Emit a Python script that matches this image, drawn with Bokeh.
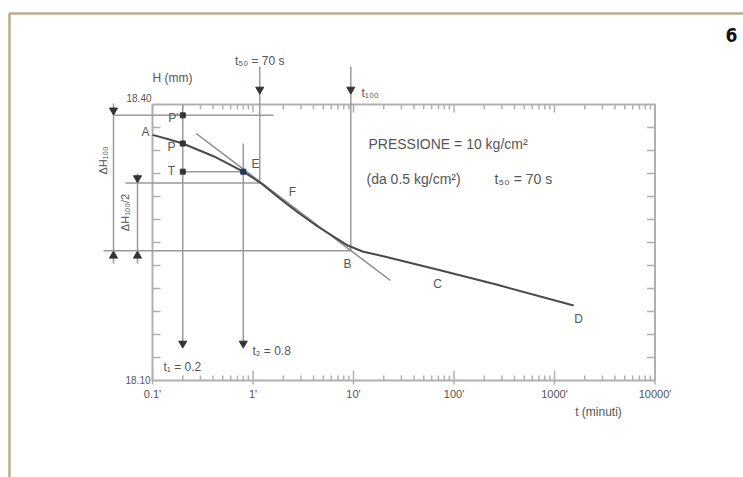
import numpy as np
from bokeh.plotting import figure
from bokeh.models import Range1d
from bokeh.core.properties import value
from bokeh.embed import file_html
from bokeh.resources import INLINE

# ---------------- data ----------------
time_min = [0.1, 0.147, 0.2, 0.41, 0.8, 1.22, 1.9, 2.8, 4.4, 8.8, 12.3, 20.3, 68, 264, 1550]
height_mm = [18.367, 18.362, 18.3576, 18.3435, 18.327, 18.314, 18.2967, 18.2826,
             18.2674, 18.2467, 18.2402, 18.2348, 18.2207, 18.2043, 18.1815]
tangent_t = [0.272, 23.3]
tangent_h = [18.3685, 18.2087]
t1, t2 = 0.2, 0.8
t50 = 70 / 60
t100 = 9.4
h_P = 18.3576
h_E = 18.327
h0 = h_P + (h_P - h_E)
h100 = 18.241
h50 = (h0 + h100) / 2
x_ticks = [0.1, 1, 10, 100, 1000, 10000]
x_tick_labels = ["0.1'", "1'", "10'", "100'", "1000'", "10000'"]
y_min, y_max = 18.10, 18.40
y_step = 0.025
y_tick_labels = ["18.10", "18.40"]

# ---------------- layout (screen px of the page) ----------------
W, H = 743, 477
SX0, DEC = 152, 100.5     # screen x of 0.1 min, px per decade
SY0, PPM = 104, 920       # screen y of 18.40 mm, px per mm


def tx(sx):
    return 10 ** (-1 + (sx - SX0) / DEC)


def hy(sy):
    return y_max - (sy - SY0) / PPM


def dpx(px):  # vertical pixel length in mm
    return px / PPM


p = figure(width=W, height=H, x_axis_type="log",
           x_range=Range1d(tx(0), tx(W)), y_range=Range1d(hy(H), hy(0)),
           x_axis_location=None, y_axis_location=None, min_border=0,
           toolbar_location=None, output_backend="svg", outline_line_color=None,
           background_fill_color="white", border_fill_color="white")
p.grid.visible = False

FONT = value("Liberation Sans")
TXT = "#555555"
LINE = "#9a9a9a"
FRAME = "#b0b0b0"

# page border (tan) top and left
p.line([tx(9), tx(9), tx(W)], [hy(H), hy(13), hy(13)],
       line_color="#b8ad8c", line_width=2.5)
p.text(x=[tx(737)], y=[hy(34)], text=["6"], text_font=value("DejaVu Sans Condensed"),
       text_font_style="bold", text_font_size="19px", text_color="#111",
       text_align="right", text_baseline="middle")

# graph frame
xmin, xmax = x_ticks[0], x_ticks[-1]
p.line([xmin, xmax, xmax, xmin, xmin], [y_max, y_max, y_min, y_min, y_max],
       line_color=FRAME, line_width=2)

# log ticks top & bottom
minor = [m * 10.0 ** d for d in range(-1, 4) for m in range(2, 10)]
p.segment(x0=minor, y0=[y_max] * len(minor), x1=minor, y1=[y_max - dpx(5)] * len(minor),
          line_color=FRAME, line_width=1.5)
p.segment(x0=minor, y0=[y_min] * len(minor), x1=minor, y1=[y_min + dpx(5)] * len(minor),
          line_color=FRAME, line_width=1.5)
p.segment(x0=x_ticks, y0=[y_min - dpx(4)] * 6, x1=x_ticks, y1=[y_min + dpx(10)] * 6,
          line_color=FRAME, line_width=1.5)
p.segment(x0=x_ticks, y0=[y_max] * 6, x1=x_ticks, y1=[y_max - dpx(8)] * 6,
          line_color=FRAME, line_width=1.5)
# linear ticks left & right
yt = [y_min + k * y_step for k in range(1, 12)]
kx = 10 ** (8 / DEC)
p.segment(x0=[xmin] * len(yt), y0=yt, x1=[xmin * kx] * len(yt), y1=yt,
          line_color=FRAME, line_width=1.5)
p.segment(x0=[xmax] * len(yt), y0=yt, x1=[xmax / kx] * len(yt), y1=yt,
          line_color=FRAME, line_width=1.5)

# tick labels
p.text(x=x_ticks, y=[hy(393)] * 6, text=x_tick_labels, text_font=FONT,
       text_font_size="11px", text_color=TXT, text_align="center", text_baseline="middle")
p.text(x=[tx(151), tx(150)], y=[hy(97), hy(379)], text=[y_tick_labels[1], y_tick_labels[0]],
       text_font=FONT, text_font_size="10px", text_color=TXT, text_align="right",
       text_baseline="middle")
p.text(x=[tx(172)], y=[hy(77)], text=["H (mm)"], text_font=FONT, text_font_size="12px",
       text_color=TXT, text_align="center", text_baseline="middle")
p.text(x=[tx(598)], y=[hy(411)], text=["t (minuti)"], text_font=FONT, text_font_size="12px",
       text_color=TXT, text_align="center", text_baseline="middle")

# construction lines
dim1, dim2 = tx(113), tx(137)
p.line([dim1, tx(273)], [h0, h0], line_color=LINE, line_width=1.5)          # 0 %
p.line([tx(125), t50], [h50, h50], line_color=LINE, line_width=1.5)         # 50 %
p.line([tx(103), t100], [h100, h100], line_color=LINE, line_width=1.5)      # 100 %
p.line([t1, t2], [h_E, h_E], line_color=LINE, line_width=1.5)               # T - E
p.line([t1, t1], [y_max, hy(345)], line_color=LINE, line_width=1.5)
p.line([t2, t2], [h_P, hy(345)], line_color=LINE, line_width=1.5)
p.line([t50, t50], [hy(66), h50], line_color=LINE, line_width=1.5)
p.line([t100, t100], [hy(66), h100], line_color=LINE, line_width=1.5)
p.line([dim1, dim1], [hy(103), hy(263)], line_color=LINE, line_width=1.5)
p.line([dim2, dim2], [hy(173), hy(263)], line_color=LINE, line_width=1.5)

# arrow heads
down = np.pi
p.scatter(x=[t50, t100, t1, t2, dim1, dim2],
          y=[hy(89), hy(89), hy(343), hy(343), h0 + dpx(5), h50 + dpx(5)],
          marker="triangle", size=8, angle=down, color="#333")
p.scatter(x=[dim1, dim2], y=[h100 - dpx(5), h100 - dpx(5)],
          marker="triangle", size=8, angle=0, color="#333")

# tangent and curve
p.line(tangent_t, tangent_h, line_color="#8a8a8a", line_width=1.5)
p.line(time_min, height_mm, line_color="#4a4a4a", line_width=2)

# construction points
p.scatter(x=[t1, t1, t1], y=[h0, h_P, h_E], marker="square", size=5, color="#333")
p.scatter(x=[t2], y=[h_E], marker="square", size=5, color="#223366")

# point letters
letters = ["A", "P'", "P", "T", "E", "F", "B", "C", "D"]
lx = [145, 173, 171, 171, 255, 292, 347, 437, 578]
ly = [131, 117, 146, 170, 163, 191, 263, 283, 318]
p.text(x=[tx(v) for v in lx], y=[hy(v) for v in ly], text=letters, text_font=FONT,
       text_font_size="12px", text_color=TXT, text_align="center", text_baseline="middle")

# arrow labels
p.text(x=[t50], y=[hy(67)], text=["t₅₀ = 70 s"], text_font=FONT, text_font_size="12px",
       text_color=TXT, text_align="center", text_baseline="bottom")
p.text(x=[tx(361)], y=[hy(92)], text=["t₁₀₀"], text_font=FONT, text_font_size="12px",
       text_color=TXT, text_align="left", text_baseline="middle")
p.text(x=[tx(163)], y=[hy(366)], text=["t₁ = 0.2"], text_font=FONT, text_font_size="12px",
       text_color=TXT, text_align="left", text_baseline="middle")
p.text(x=[tx(252)], y=[hy(350)], text=["t₂ = 0.8"], text_font=FONT, text_font_size="12px",
       text_color=TXT, text_align="left", text_baseline="middle")

# dimension labels
p.text(x=[tx(102)], y=[hy(160)], text=["ΔH₁₀₀"], angle=np.pi / 2, text_font=FONT,
       text_font_size="11px", text_color=TXT, text_align="center", text_baseline="middle")
p.text(x=[tx(124)], y=[hy(212)], text=["ΔH₁₀₀/2"], angle=np.pi / 2, text_font=FONT,
       text_font_size="11px", text_color=TXT, text_align="center", text_baseline="middle")

# pressure note
p.text(x=[tx(368), tx(366), tx(494)], y=[hy(143), hy(178), hy(178)],
       text=["PRESSIONE = 10 kg/cm²", "(da 0.5 kg/cm²)", "t₅₀ = 70 s"], text_font=FONT,
       text_font_size="14px", text_color=TXT, text_align="left", text_baseline="middle")

open("out.html", "w").write(file_html(p, INLINE))
